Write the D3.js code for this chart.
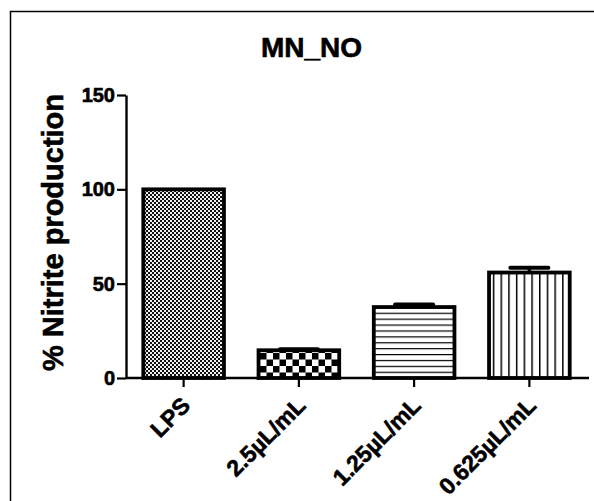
<!DOCTYPE html>
<html>
<head>
<meta charset="utf-8">
<script src="https://cdn.jsdelivr.net/npm/d3@7"></script>
<style>
  html, body { margin: 0; padding: 0; background: #fff; }
  svg { display: block; font-family: "Liberation Sans", Arial, Helvetica, sans-serif; }
</style>
</head>
<body>
<svg id="chart" width="594" height="501"></svg>
<script>
const categories = ["LPS", "2.5\u00b5L/mL", "1.25\u00b5L/mL", "0.625\u00b5L/mL"];
const values = [100, 14.7, 37.6, 55.9];
const errors = [0, 0.6, 1.3, 2.6];
const patterns = ["fineCheck", "coarseCheck", "hLines", "vLines"];
const yTicks = [0, 50, 100, 150];
const title = "MN_NO";
const yLabel = "% Nitrite production";

const svg = d3.select("#chart");
const W = 594, H = 501;
svg.append("rect").attr("width", W).attr("height", H).attr("fill", "#fff");

svg.append("path").attr("d", `M10.5,${H} V11.5 H${W}`).attr("fill", "none").attr("stroke", "#000").attr("stroke-width", 1.5);

const defs = svg.append("defs");
let p = defs.append("pattern").attr("id", "fineCheck").attr("patternUnits", "userSpaceOnUse").attr("width", 4).attr("height", 4);
p.append("rect").attr("width", 4).attr("height", 4).attr("fill", "#eee");
p.append("rect").attr("width", 2).attr("height", 2).attr("fill", "#111");
p.append("rect").attr("x", 2).attr("y", 2).attr("width", 2).attr("height", 2).attr("fill", "#111");
p = defs.append("pattern").attr("id", "coarseCheck").attr("patternUnits", "userSpaceOnUse").attr("width", 13).attr("height", 13).attr("x", 0).attr("y", 2);
p.append("rect").attr("width", 13).attr("height", 13).attr("fill", "#fff");
p.append("rect").attr("width", 6.5).attr("height", 6.5).attr("fill", "#000");
p.append("rect").attr("x", 6.5).attr("y", 6.5).attr("width", 6.5).attr("height", 6.5).attr("fill", "#000");
p = defs.append("pattern").attr("id", "hLines").attr("patternUnits", "userSpaceOnUse").attr("width", 10).attr("height", 5.9);
p.append("rect").attr("width", 10).attr("height", 5.9).attr("fill", "#fff");
p.append("rect").attr("y", 0).attr("width", 10).attr("height", 1.2).attr("fill", "#000");
p = defs.append("pattern").attr("id", "vLines").attr("patternUnits", "userSpaceOnUse").attr("width", 7.7).attr("height", 10);
p.append("rect").attr("width", 7.7).attr("height", 10).attr("fill", "#fff");
p.append("rect").attr("x", 0).attr("width", 1.5).attr("height", 10).attr("fill", "#000");

const x0 = 126, x1 = 587, yBase = 378, yTop = 95;
const x = d3.scaleBand().domain(categories).range([x0, x1]).paddingInner(0.3).paddingOuter(0.15);
const y = d3.scaleLinear().domain([0, 150]).range([yBase, yTop]);

const g = svg.append("g");
categories.forEach((c, i) => {
  const bx = x(c), bw = x.bandwidth();
  g.append("rect")
    .attr("x", bx).attr("y", y(values[i]))
    .attr("width", bw).attr("height", y(0) - y(values[i]))
    .attr("fill", `url(#${patterns[i]})`)
    .attr("stroke", "#000").attr("stroke-width", 3.8);
  if (errors[i] > 0) {
    const cx = bx + bw / 2;
    g.append("line").attr("x1", cx).attr("x2", cx).attr("y1", y(values[i])).attr("y2", y(values[i] + errors[i]))
      .attr("stroke", "#000").attr("stroke-width", 3.5);
    g.append("line").attr("x1", cx - 19).attr("x2", cx + 19).attr("y1", y(values[i] + errors[i])).attr("y2", y(values[i] + errors[i]))
      .attr("stroke", "#000").attr("stroke-width", 4).attr("stroke-linecap", "round");
  }
});

const textStyle = sel => sel.attr("font-weight", "bold").attr("fill", "#000")
  .attr("stroke", "#000").attr("stroke-width", 0.6)
  .attr("font-family", "'Liberation Sans', Arial, sans-serif");

const yAxis = svg.append("g").attr("transform", `translate(${x0},0)`)
  .call(d3.axisLeft(y).tickValues(yTicks).tickSize(9).tickPadding(2).tickSizeOuter(0));
yAxis.select(".domain").attr("stroke", "#000").attr("stroke-width", 2.4);
yAxis.selectAll(".tick line").attr("stroke", "#000").attr("stroke-width", 2.2);
yAxis.selectAll(".tick text").attr("font-size", 20).call(textStyle);

const xAxis = svg.append("g").attr("transform", `translate(0,${yBase})`)
  .call(d3.axisBottom(x).tickSize(9).tickSizeOuter(0).tickFormat(""));
xAxis.select(".domain").attr("stroke", "#000").attr("stroke-width", 2.4).attr("d", `M${x0},0H${x1 + 2}`);
xAxis.selectAll(".tick line").attr("stroke", "#000").attr("stroke-width", 2.2);
xAxis.selectAll(".tick").append("text")
  .text(d => d)
  .attr("text-anchor", "end")
  .attr("transform", "translate(8,29) rotate(-45)")
  .attr("font-size", 23).call(textStyle);

svg.append("text").attr("x", 311.5).attr("y", 57).attr("text-anchor", "middle")
  .attr("font-size", 28).call(textStyle).text(title);

svg.append("text").attr("transform", `translate(63,232.5) rotate(-90)`).attr("text-anchor", "middle")
  .attr("font-size", 29).call(textStyle).text(yLabel);
</script>
</body>
</html>
